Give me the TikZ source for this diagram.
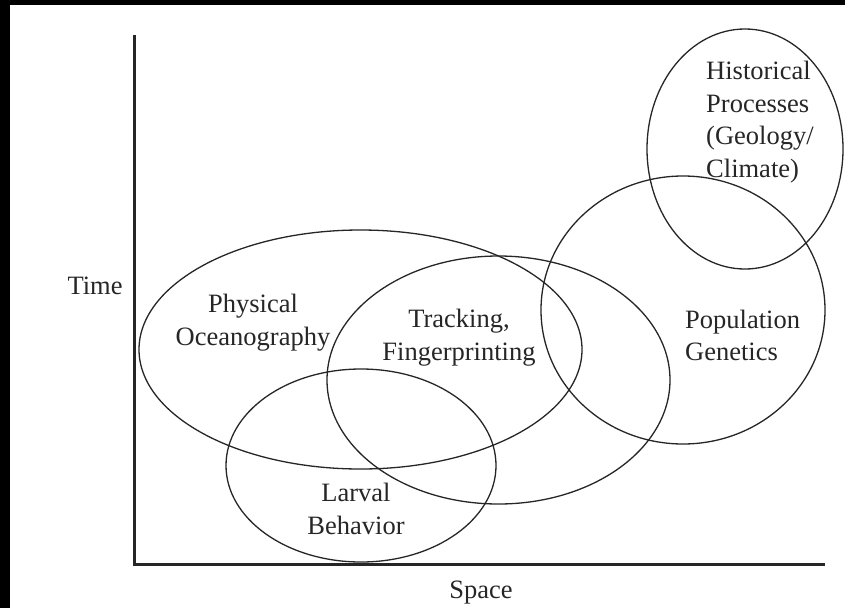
\documentclass[tikz,border=0pt]{standalone}
\usepackage{fontspec}
\setmainfont{Liberation Serif}
\usetikzlibrary{shapes.geometric}

\begin{document}
\begin{tikzpicture}[x=1pt, y=-1pt]
	\tikzset{
		region/.style={ellipse, draw=black!85, line width=1.3pt, inner sep=0pt},
		txt/.style={font=\fontsize{26.5}{32.5}\selectfont, inner sep=0pt, text=black!85},
		axis/.style={draw=black!85, line width=3pt}
	}
	
	% Frame
	\fill[black] (0,0) rectangle (845,608);
	\fill[white] (10,5) rectangle (845,608);
	\useasboundingbox (0,0) rectangle (845,608);
	
	% Axes
	\coordinate (top) at (134,35);
	\coordinate (origin) at (134,564);
	\coordinate (right) at (825,564);
	\draw[axis] (top) -- (origin) -- (right);
	\node[txt] (time) at (95,286) {Time};
	\node[txt] (space) at (481,593) {Space};
	
	% Regions
	\node[region, minimum width=443, minimum height=239] (ocean) at (360.5,349.5) {};
	\node[region, minimum width=343, minimum height=248] (track) at (498.5,380) {};
	\node[region, minimum width=270, minimum height=193] (larva) at (361,465.5) {};
	\node[region, minimum width=284, minimum height=268] (genes) at (683,310) {};
	\node[region, minimum width=196, minimum height=240] (hist) at (745,149) {};
	
	% Region texts
	\node[txt, align=center] (oceantxt) at (253,322.5) {Physical\\Oceanography};
	\node[txt, align=center] (tracktxt) at (459,337.5) {Tracking,\\Fingerprinting};
	\node[txt, align=center] (larvatxt) at (356,509) {Larval\\Behavior};
	\node[txt, align=left, anchor=west] (genestxt) at (685,335.5) {Population\\Genetics};
	\node[txt, align=left, anchor=west] (histtxt) at (706,122) {Historical\\Processes\\(Geology/\\Climate)};
\end{tikzpicture}
\end{document}
